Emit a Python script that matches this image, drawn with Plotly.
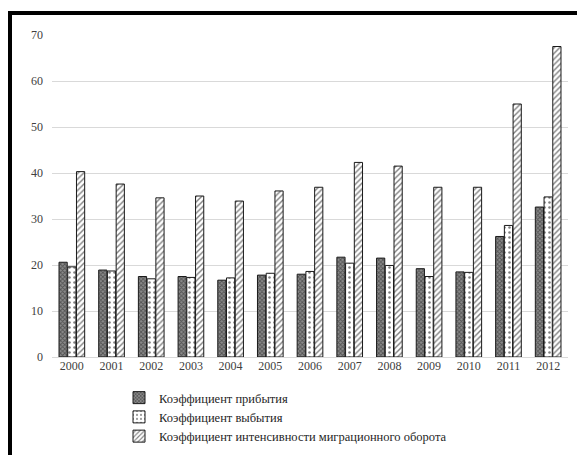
import plotly.graph_objects as go

years = ["2000", "2001", "2002", "2003", "2004", "2005", "2006",
         "2007", "2008", "2009", "2010", "2011", "2012"]
arrival = [20.6, 18.9, 17.5, 17.5, 16.7, 17.8, 18.0, 21.7, 21.5, 19.2, 18.5, 26.2, 32.6]
departure = [19.6, 18.7, 17.0, 17.3, 17.2, 18.2, 18.6, 20.4, 19.9, 17.5, 18.4, 28.6, 34.8]
intensity = [40.3, 37.6, 34.6, 35.0, 33.9, 36.1, 36.9, 42.3, 41.5, 36.9, 36.9, 55.0, 67.5]

names = ["Коэффициент прибытия", "Коэффициент выбытия",
         "Коэффициент интенсивности миграционного оборота"]

FONT = "Liberation Serif"

fig = go.Figure()
fig.add_trace(go.Bar(
    x=years, y=arrival, name=names[0],
    marker=dict(color="#8a8a8a", line=dict(color="#1a1a1a", width=1),
                pattern=dict(shape="x", fgcolor="#1a1a1a", bgcolor="#8a8a8a",
                             size=3, solidity=0.5)),
))
fig.add_trace(go.Bar(
    x=years, y=departure, name=names[1],
    marker=dict(color="white", line=dict(color="#1a1a1a", width=1),
                pattern=dict(shape=".", fgcolor="#000000", bgcolor="white",
                             size=5, solidity=0.2)),
))
fig.add_trace(go.Bar(
    x=years, y=intensity, name=names[2],
    marker=dict(color="white", line=dict(color="#1a1a1a", width=1),
                pattern=dict(shape="/", fgcolor="#000000", bgcolor="white",
                             size=4, solidity=0.35)),
))

W, H = 585, 455
L, R, T, B = 44, 25, 27, 106
pw, ph = W - L - R, H - T - B

def px_x(p):
    return (p - L) / pw

def px_y(p):
    return 1 - (p - T) / ph

fig.update_layout(
    width=W, height=H,
    margin=dict(l=L, r=R, t=T, b=B, autoexpand=False),
    paper_bgcolor="white", plot_bgcolor="white",
    barmode="group", bargap=0.34, bargroupgap=0.06,
    font=dict(family=FONT, size=12, color="#404040"),
    showlegend=True,
    legend=dict(orientation="v", x=px_x(111), xanchor="left",
                y=px_y(375), yanchor="top",
                font=dict(family=FONT, size=12.5, color="#262626"),
                itemwidth=30, tracegroupgap=0, bgcolor="rgba(0,0,0,0)"),
    xaxis=dict(showgrid=False, showline=False, ticks="",
               tickfont=dict(family=FONT, size=12, color="#404040")),
    yaxis=dict(range=[0, 70], dtick=10, showgrid=True, gridcolor="#d9d9d9",
               gridwidth=1, zeroline=True, zerolinecolor="#d9d9d9",
               zerolinewidth=1, showline=False, ticks="",
               ticklabelstandoff=8,
               tickfont=dict(family=FONT, size=12, color="#404040")),
    shapes=[
        dict(type="line", xref="paper", yref="paper",
             x0=px_x(0), x1=px_x(W + 5), y0=px_y(5), y1=px_y(5),
             line=dict(color="black", width=4)),
        dict(type="line", xref="paper", yref="paper",
             x0=px_x(2), x1=px_x(2), y0=px_y(3), y1=px_y(H + 5),
             line=dict(color="black", width=4)),
    ],
)

fig.write_html("out.html")
